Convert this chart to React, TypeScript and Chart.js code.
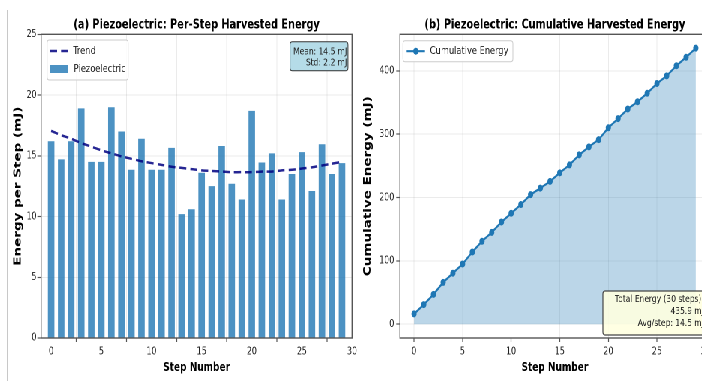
import React, { useEffect, useRef } from "react";
import { Chart, registerables } from "chart.js";

Chart.register(...registerables);

// ---------------- data ----------------
const steps = [0, 1, 2, 3, 4, 5, 6, 7, 8, 9, 10, 11, 12, 13, 14, 15, 16, 17, 18, 19, 20, 21, 22, 23, 24, 25, 26, 27, 28, 29];
const perStepEnergy = [16.2, 14.7, 16.2, 18.9, 14.5, 14.5, 19.0, 17.0, 13.85, 16.4, 13.85, 13.85, 15.65, 10.2, 10.6, 13.6, 12.5, 15.8, 12.7, 11.4, 18.7, 14.45, 15.2, 11.4, 13.5, 15.3, 12.1, 15.95, 13.5, 14.4];
const trendValues = [17.05, 16.7, 16.4, 16.05, 15.75, 15.45, 15.2, 14.95, 14.75, 14.55, 14.4, 14.25, 14.1, 14.0, 13.9, 13.8, 13.75, 13.7, 13.65, 13.65, 13.65, 13.7, 13.7, 13.8, 13.85, 13.95, 14.05, 14.2, 14.35, 14.5];
const cumulativeEnergy = [16.2, 30.9, 47.1, 66.0, 80.5, 95.0, 114.0, 131.0, 144.9, 161.3, 175.1, 189.0, 204.6, 214.8, 225.4, 239.0, 251.5, 267.3, 280.0, 291.4, 310.1, 324.6, 339.8, 351.2, 364.7, 380.0, 392.1, 408.0, 421.5, 435.9];
const xTickValues = [0, 5, 10, 15, 20, 25, 30];
const yTickValuesLeft = [0, 5, 10, 15, 20, 25];
const yTickValuesRight = [0, 100, 200, 300, 400];

const leftTitle = "(a) Piezoelectric: Per-Step Harvested Energy";
const rightTitle = "(b) Piezoelectric: Cumulative Harvested Energy";
const leftYLabel = "Energy per Step (mJ)";
const rightYLabel = "Cumulative Energy (mJ)";
const xLabel = "Step Number";
const trendLabel = "Trend";
const barLabel = "Piezoelectric";
const lineLabel = "Cumulative Energy";
const statsLines = ["Mean: 14.5 mJ", "Std: 2.2 mJ"];
const totalLines = ["Total Energy (30 steps):", "435.9 mJ", "Avg/step: 14.5 mJ"];

// ---------------- styles ----------------
const SX = 0.75; // horizontal squeeze of the whole figure
const FONT = '"DejaVu Sans", sans-serif';
const BAR_COLOR = "rgba(31,119,180,0.8)";
const TREND_COLOR = "rgba(0,0,128,0.85)";
const LINE_COLOR = "#1f77b4";
const FILL_COLOR = "rgba(31,119,180,0.3)";
const GRID_COLOR = "rgba(0,0,0,0.08)";
const SPINE_COLOR = "#555";
const TEXT_COLOR = "#222";

function roundRect(ctx: CanvasRenderingContext2D, x: number, y: number, w: number, h: number, r: number) {
  ctx.beginPath();
  ctx.moveTo(x + r, y);
  ctx.lineTo(x + w - r, y);
  ctx.quadraticCurveTo(x + w, y, x + w, y + r);
  ctx.lineTo(x + w, y + h - r);
  ctx.quadraticCurveTo(x + w, y + h, x + w - r, y + h);
  ctx.lineTo(x + r, y + h);
  ctx.quadraticCurveTo(x, y + h, x, y + h - r);
  ctx.lineTo(x, y + r);
  ctx.quadraticCurveTo(x, y, x + r, y);
  ctx.closePath();
}

function drawFrame(chart: any) {
  const { ctx, chartArea: a } = chart;
  ctx.save();
  ctx.strokeStyle = SPINE_COLOR;
  ctx.lineWidth = 1.4;
  ctx.strokeRect(a.left, a.top, a.right - a.left, a.bottom - a.top);
  ctx.restore();
}

const leftDecor = {
  id: "leftDecor",
  afterDraw(chart: any) {
    drawFrame(chart);
    const { ctx, chartArea: a } = chart;
    ctx.save();
    // legend
    roundRect(ctx, a.left + 8, a.top + 5.7, 108, 40, 3);
    ctx.fillStyle = "rgba(255,255,255,0.85)";
    ctx.fill();
    ctx.strokeStyle = "#cccccc";
    ctx.lineWidth = 1;
    ctx.stroke();
    ctx.beginPath();
    ctx.setLineDash([9.3, 5.3]);
    ctx.strokeStyle = TREND_COLOR;
    ctx.lineWidth = 2.5;
    ctx.moveTo(a.left + 12, a.top + 16.7);
    ctx.lineTo(a.left + 36, a.top + 16.7);
    ctx.stroke();
    ctx.setLineDash([]);
    ctx.fillStyle = BAR_COLOR;
    ctx.fillRect(a.left + 12, a.top + 30.7, 24, 8);
    ctx.fillStyle = TEXT_COLOR;
    ctx.font = `11px ${FONT}`;
    ctx.textAlign = "left";
    ctx.textBaseline = "middle";
    ctx.fillText(trendLabel, a.left + 42.7, a.top + 16.7);
    ctx.fillText(barLabel, a.left + 43.4, a.top + 34.7);
    // stats box
    roundRect(ctx, a.right - 82.7, a.top + 7.4, 77.3, 29, 3);
    ctx.fillStyle = "rgba(173,216,230,0.9)";
    ctx.fill();
    ctx.strokeStyle = "#333";
    ctx.lineWidth = 1;
    ctx.stroke();
    ctx.fillStyle = TEXT_COLOR;
    ctx.font = `10px ${FONT}`;
    ctx.textAlign = "right";
    ctx.fillText(statsLines[0], a.right - 6.6, a.top + 17.4);
    ctx.fillText(statsLines[1], a.right - 6.6, a.top + 28.4);
    ctx.restore();
  },
};

const rightDecor = {
  id: "rightDecor",
  afterDraw(chart: any) {
    drawFrame(chart);
    const { ctx, chartArea: a } = chart;
    ctx.save();
    // legend
    roundRect(ctx, a.left + 4, a.top + 6.4, 146.7, 21, 3);
    ctx.fillStyle = "rgba(255,255,255,0.85)";
    ctx.fill();
    ctx.strokeStyle = "#cccccc";
    ctx.lineWidth = 1;
    ctx.stroke();
    ctx.beginPath();
    ctx.strokeStyle = LINE_COLOR;
    ctx.lineWidth = 2.2;
    ctx.moveTo(a.left + 9, a.top + 16.9);
    ctx.lineTo(a.left + 33.4, a.top + 16.9);
    ctx.stroke();
    ctx.beginPath();
    ctx.fillStyle = LINE_COLOR;
    ctx.arc(a.left + 21.2, a.top + 16.9, 3.5, 0, Math.PI * 2);
    ctx.fill();
    ctx.fillStyle = TEXT_COLOR;
    ctx.font = `11px ${FONT}`;
    ctx.textAlign = "left";
    ctx.textBaseline = "middle";
    ctx.fillText(lineLabel, a.left + 40, a.top + 16.9);
    // total box
    roundRect(ctx, a.right - 142.7, a.bottom - 47, 138.7, 44, 3);
    ctx.fillStyle = "rgba(255,255,224,0.9)";
    ctx.fill();
    ctx.strokeStyle = "#444";
    ctx.lineWidth = 1.2;
    ctx.stroke();
    ctx.fillStyle = TEXT_COLOR;
    ctx.font = `10px ${FONT}`;
    ctx.textAlign = "right";
    ctx.fillText(totalLines[0], a.right - 8, a.bottom - 38.4);
    ctx.fillText(totalLines[1], a.right - 8, a.bottom - 26.4);
    ctx.fillText(totalLines[2], a.right - 8, a.bottom - 14.4);
    ctx.restore();
  },
};

function ticksFrom(values: number[]) {
  return (scale: any) => {
    scale.ticks = values.map((v) => ({ value: v }));
  };
}

function xScale(min: number, max: number) {
  return {
    type: "linear" as const,
    min,
    max,
    offset: false,
    afterBuildTicks: ticksFrom(xTickValues),
    afterFit: (s: any) => {
      s.height = 43;
    },
    grid: { color: GRID_COLOR, lineWidth: 1, tickLength: 4, tickColor: SPINE_COLOR, tickWidth: 1.2 },
    border: { display: false },
    ticks: { font: { family: FONT, size: 10.5 }, color: TEXT_COLOR, padding: 3.5, maxRotation: 0, autoSkip: false },
    title: {
      display: true,
      text: xLabel,
      font: { family: FONT, size: 12, weight: "bold" as const },
      color: "#000",
      padding: { top: 0, bottom: 5.8 },
    },
  };
}

function yScale(min: number, max: number, values: number[], width: number, label: string, tickPad: number) {
  return {
    type: "linear" as const,
    min,
    max,
    afterBuildTicks: ticksFrom(values),
    afterFit: (s: any) => {
      s.width = width;
    },
    grid: { color: GRID_COLOR, lineWidth: 1, tickLength: 5, tickColor: SPINE_COLOR, tickWidth: 1.2 },
    border: { display: false },
    ticks: { font: { family: FONT, size: 10.5 }, color: TEXT_COLOR, padding: tickPad, autoSkip: false },
    title: {
      display: true,
      text: label,
      font: { family: FONT, size: 13.5, weight: "bold" as const },
      color: "#000",
      padding: { top: 3.9, bottom: 0 },
    },
  };
}

function titleOpts(text: string) {
  return {
    display: true,
    text,
    fullSize: false,
    font: { family: FONT, size: 13, weight: "bold" as const },
    color: "#000",
    padding: { top: 17.2, bottom: 1.5 },
  };
}

export default function App() {
  const leftRef = useRef<HTMLCanvasElement>(null);
  const rightRef = useRef<HTMLCanvasElement>(null);

  useEffect(() => {
    if (!leftRef.current || !rightRef.current) return;

    const left = new Chart(leftRef.current, {
      type: "bar",
      data: {
        datasets: [
          {
            type: "line",
            label: trendLabel,
            data: steps.map((s, i) => ({ x: s, y: trendValues[i] })),
            borderColor: TREND_COLOR,
            borderWidth: 2.5,
            borderDash: [9.3, 5.3],
            pointRadius: 0,
            fill: false,
            tension: 0.3,
            order: 0,
          } as any,
          {
            type: "bar",
            label: barLabel,
            data: steps.map((s, i) => ({ x: s, y: perStepEnergy[i] })),
            backgroundColor: BAR_COLOR,
            borderWidth: 0,
            barPercentage: 0.65,
            categoryPercentage: 1,
            order: 1,
          } as any,
        ],
      },
      options: {
        animation: false,
        responsive: false,
        maintainAspectRatio: false,
        devicePixelRatio: 2,
        layout: { padding: { left: 12, right: 10.7, top: 0, bottom: 0 } },
        plugins: {
          legend: { display: false },
          tooltip: { enabled: false },
          title: titleOpts(leftTitle),
        },
        scales: {
          x: xScale(-1, 30),
          y: yScale(0, 25, yTickValuesLeft, 42.7, leftYLabel, 1),
        },
      } as any,
      plugins: [leftDecor],
    });

    const right = new Chart(rightRef.current, {
      type: "line",
      data: {
        datasets: [
          {
            label: lineLabel,
            data: steps.map((s, i) => ({ x: s, y: cumulativeEnergy[i] })),
            borderColor: LINE_COLOR,
            backgroundColor: FILL_COLOR,
            fill: "origin",
            borderWidth: 2.2,
            pointRadius: 3.5,
            pointBackgroundColor: LINE_COLOR,
            pointBorderColor: LINE_COLOR,
            pointBorderWidth: 0,
            tension: 0,
          } as any,
        ],
      },
      options: {
        animation: false,
        responsive: false,
        maintainAspectRatio: false,
        devicePixelRatio: 2,
        layout: { padding: { left: 8.7, right: 23.3, top: 0, bottom: 0 } },
        plugins: {
          legend: { display: false },
          tooltip: { enabled: false },
          title: titleOpts(rightTitle),
        },
        scales: {
          x: xScale(-1.45, 30.45),
          y: yScale(-21.8, 457.7, yTickValuesRight, 54.6, rightYLabel, 2.6),
        },
      } as any,
      plugins: [rightDecor],
    });

    return () => {
      left.destroy();
      right.destroy();
    };
  }, []);

  return (
    <div
      style={{
        position: "fixed",
        left: 0,
        top: 0,
        width: 702,
        height: 381,
        overflow: "hidden",
        background: "#fff",
      }}
    >
      <div style={{ position: "absolute", left: 7, top: 10, width: 1, height: 371, background: "#c8c8c8" }} />
      <div
        style={{
          position: "absolute",
          left: 0,
          top: 0,
          width: 970,
          height: 381,
          transform: `scaleX(${SX})`,
          transformOrigin: "0 0",
        }}
      >
        <canvas
          ref={leftRef}
          width={480}
          height={381}
          style={{ position: "absolute", left: 0, top: 0, width: 480, height: 381 }}
        />
        <canvas
          ref={rightRef}
          width={500}
          height={381}
          style={{ position: "absolute", left: 470, top: 0, width: 500, height: 381 }}
        />
      </div>
    </div>
  );
}
